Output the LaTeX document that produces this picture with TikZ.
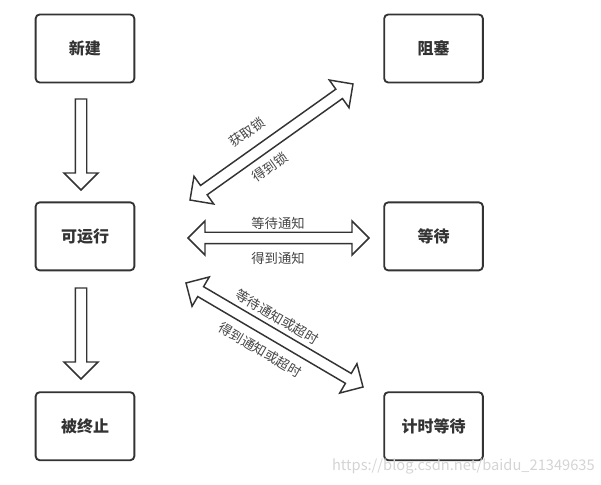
\documentclass[tikz,border=0pt]{standalone}
\usepackage{fontspec}
\setmainfont{Noto Sans CJK SC}
\usepackage{tikz}
\usetikzlibrary{positioning,calc}
\definecolor{ink}{HTML}{333333}
\definecolor{labelgray}{HTML}{444444}
\definecolor{markgray}{HTML}{D4D4D4}

% sizes of the hollow arrows
\newcommand\headlen{12.75pt}
\newcommand\headhalf{12.75pt}
\newcommand\shafthalf{4.3pt}

% hollow arrow with one head, from #1 (tail) to #2 (tip)
\newcommand\onewayarrow[2]{%
  \path ($(#2)!\headlen!(#1)$) coordinate (#2h);
  \draw[blk] (#2) -- ($(#2h)!\headhalf!90:(#1)$) -- ($(#2h)!\shafthalf!90:(#1)$)
    -- ($(#1)!\shafthalf!-90:(#2)$) -- ($(#1)!\shafthalf!90:(#2)$)
    -- ($(#2h)!\shafthalf!-90:(#1)$) -- ($(#2h)!\headhalf!-90:(#1)$) -- cycle;}

% hollow arrow with two heads, between #1 and #2
\newcommand\twowayarrow[2]{%
  \path ($(#1)!\headlen!(#2)$) coordinate (#1h) ($(#2)!\headlen!(#1)$) coordinate (#2h);
  \draw[blk] (#1) -- ($(#1h)!\headhalf!-90:(#2)$) -- ($(#1h)!\shafthalf!-90:(#2)$)
    -- ($(#2h)!\shafthalf!90:(#1)$) -- ($(#2h)!\headhalf!90:(#1)$) -- (#2)
    -- ($(#2h)!\headhalf!-90:(#1)$) -- ($(#2h)!\shafthalf!-90:(#1)$)
    -- ($(#1h)!\shafthalf!90:(#2)$) -- ($(#1h)!\headhalf!90:(#2)$) -- cycle;}

\begin{document}
\begin{tikzpicture}[
  x=0.75pt,y=-0.75pt,
  box/.style={draw=ink,line width=1.4pt,rounded corners=3pt,fill=white,
    minimum width=74pt,minimum height=51pt,font=\fontsize{12}{14}\selectfont\bfseries,text=ink},
  lbl/.style={font=\fontsize{10}{12}\selectfont,text=labelgray,inner sep=0pt},
  blk/.style={draw=ink,line width=1.1pt,fill=white,line join=miter},
  node distance=88.5pt and 186pt
]
\useasboundingbox (0,0) rectangle (601,485);
\node[box] (new) at (85,48.5) {新建};
\node[box,below=of new] (run) {可运行};
\node[box,below=90pt of run] (dead) {被终止};
\node[box,right=of new] (blocked) {阻塞};
\node[box,right=of run] (waiting) {等待};
\node[box,right=of dead] (timed) {计时等待};

% free ends of the hollow arrows
\coordinate (newA) at (81,99);
\coordinate (newB) at (81,190);
\coordinate (deadA) at (81,288);
\coordinate (deadB) at (81,379);
\coordinate (lockA) at (190,200);
\coordinate (lockB) at (353,84);
\coordinate (waitA) at (188,238);
\coordinate (waitB) at (369,238);
\coordinate (timeA) at (186,283);
\coordinate (timeB) at (363,387);

\onewayarrow{newA}{newB}
\onewayarrow{deadA}{deadB}
\twowayarrow{lockA}{lockB}
\twowayarrow{waitA}{waitB}
\twowayarrow{timeA}{timeB}

\node[lbl,rotate=35.4] (getlock) at (247,132) {获取锁};
\node[lbl,rotate=35.4] (gotlock) at (270,167) {得到锁};
\node[lbl] (waitnote) at (278,223) {等待通知};
\node[lbl] (gotnote) at (278,258) {得到通知};
\node[lbl,rotate=-30.4] (waittime) at (277,317) {等待通知或超时};
\node[lbl,rotate=-30.4] (gottime) at (260,350) {得到通知或超时};

\node[font=\fontsize{11}{13}\selectfont,text=markgray,anchor=east,inner sep=0pt] (mark) at (595,466) {https://blog.csdn.net/baidu\_21349635};
\end{tikzpicture}
\end{document}
